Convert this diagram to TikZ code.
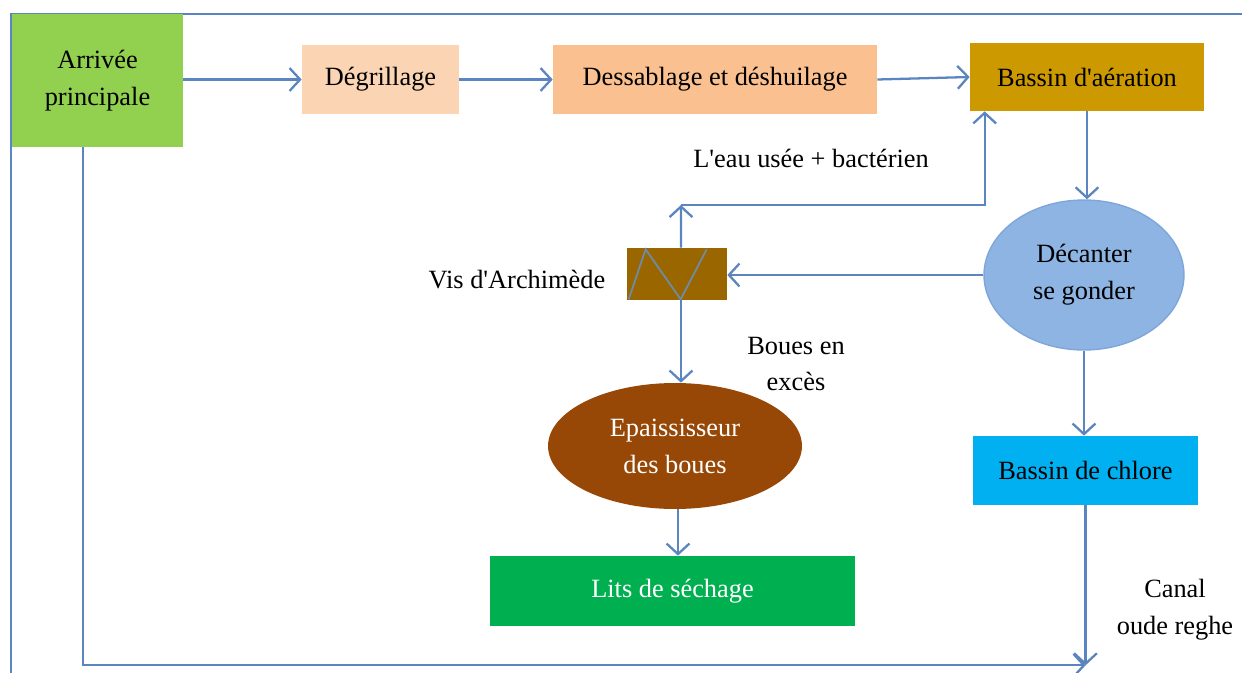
\documentclass[tikz,border=0pt]{standalone}
\usepackage{fontspec}
\setmainfont{Liberation Serif}
\usepackage{tikz}
\usetikzlibrary{arrows.meta,calc,shapes.geometric}

\definecolor{flowblue}{HTML}{5B85C0}
\definecolor{arrgreen}{HTML}{92D050}
\definecolor{degpeach}{HTML}{FBD4B4}
\definecolor{dessorange}{HTML}{FAC08F}
\definecolor{aergold}{HTML}{CC9900}
\definecolor{decblue}{HTML}{8DB4E2}
\definecolor{decedge}{HTML}{7EA6DA}
\definecolor{visbrown}{HTML}{996600}
\definecolor{epbrown}{HTML}{984806}
\definecolor{litsgreen}{HTML}{00B050}
\definecolor{chlcyan}{HTML}{00B0F0}
\definecolor{zigzag}{HTML}{6E8CA8}

\tikzset{
  box/.style={rectangle, draw=none, inner sep=2pt, align=center,
    font=\fontsize{15}{21}\selectfont},
  blob/.style={ellipse, inner sep=0pt, align=center,
    font=\fontsize{15}{21}\selectfont},
  lbl/.style={align=center, inner sep=0pt, font=\fontsize{15}{21}\selectfont},
  flow/.style={flowblue, line width=1.3pt, -{Straight Barb[length=6pt,width=13pt,line width=1.3pt]}},
  wire/.style={flowblue, line width=1.3pt}
}

\begin{document}
\begin{tikzpicture}[x=0.02cm, y=-0.02cm]
    \useasboundingbox (0,0) rectangle (1242,673);
    % cadre
    \draw[wire, line width=1.6pt] (11,673) -- (11,14) -- (1242,14);

    % ligne du haut
    \node[box, fill=arrgreen, minimum width=3.42cm, minimum height=2.66cm] (arrivee) at (97.5,80.5) {Arrivée\\principale};
    \node[box, fill=degpeach, minimum width=3.14cm, minimum height=1.38cm] (degrill) at (380.5,79.5) {Dégrillage};
    \node[box, fill=dessorange, minimum width=6.48cm, minimum height=1.38cm] (dessab) at (715,79.5) {Dessablage et déshuilage};
    \node[box, fill=aergold, minimum width=4.68cm, minimum height=1.36cm] (aeration) at (1087,77) {Bassin d\textquotesingle aération};

    % decantation et boues
    \node[blob, fill=decblue, draw=decedge, line width=0.8pt, minimum width=4.0cm, minimum height=3.0cm] (decanter) at (1084,275) {Décanter\\se gonder};
    \node[box, fill=visbrown, minimum width=2.0cm, minimum height=1.04cm] (vis) at (677,274) {};
    \draw[zigzag, line width=1pt] ($(vis.south west)+(2,-1)$) -- ($(vis.south west)+(19,-51)$)
        -- ($(vis.south west)+(54,-1)$) -- ($(vis.south west)+(80,-51)$);
    \node[blob, fill=epbrown, text=white, minimum width=5.08cm, minimum height=2.52cm] (epaiss) at (675,446) {Epaississeur\\des boues};
    \node[box, fill=litsgreen, text=white, minimum width=7.3cm, minimum height=1.4cm] (lits) at (672.5,591) {Lits de séchage};
    \node[box, fill=chlcyan, minimum width=4.5cm, minimum height=1.38cm] (chlore) at (1085.5,470.5) {Bassin de chlore};

    % textes
    \node[lbl] (lblvis) at (517,280) {Vis d\textquotesingle Archimède};
    \node[lbl] (lbleau) at (811,158) {L\textquotesingle eau usée + bactérien};
    \node[lbl] (lblboues) at (796,364) {Boues en\\excès};
    \node[lbl] (lblcanal) at (1175,610) {Canal\\oude reghe};

    \coordinate (retour) at (681,205);
    \path (chlore.south) ++(0,160) coordinate (canal);

    % liaisons
    \draw[flow] (arrivee.east |- degrill.west) -- (degrill.west);
    \draw[flow] (degrill.east) -- (dessab.west);
    \draw[flow] (dessab.east) -- (aeration.west);
    \draw[flow] (aeration.south) -- (aeration.south |- decanter.north);
    \draw[flow] (decanter.west) -- (vis.east |- decanter.west);
    \draw[flow] ([xshift=0.08cm]vis.north) -- (retour);
    \draw[flow] (retour) -| ([xshift=0.3cm]aeration.south west);
    \draw[flow] ([xshift=0.08cm]vis.south) -- ([xshift=0.08cm]vis.south |- epaiss.north);
    \draw[flow] ([xshift=0.06cm]epaiss.south) -- ([xshift=0.06cm]epaiss.south |- lits.north);
    \draw[flow] (decanter.south) -- (decanter.south |- chlore.north);
    \draw[flow] (chlore.south) -- (canal);
    \draw[flow] ([xshift=-0.29cm]arrivee.south) |- (canal);
\end{tikzpicture}
\end{document}
